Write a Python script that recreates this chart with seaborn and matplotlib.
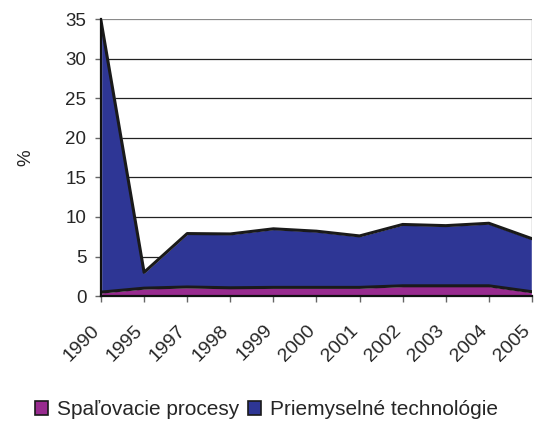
import matplotlib
matplotlib.use("Agg")
import matplotlib.pyplot as plt
import matplotlib.transforms as mtransforms
import seaborn as sns
import pandas as pd
from matplotlib.patches import Patch

years = ["1990", "1995", "1997", "1998", "1999", "2000", "2001", "2002", "2003", "2004", "2005"]
spalovacie = [0.5, 1.0, 1.15, 1.05, 1.1, 1.1, 1.1, 1.3, 1.3, 1.3, 0.55]
priemyselne = [34.3, 2.0, 6.75, 6.8, 7.4, 7.1, 6.5, 7.75, 7.6, 7.9, 6.7]
series_names = ["Spaľovacie procesy", "Priemyselné technológie"]
y_ticks = [0, 5, 10, 15, 20, 25, 30, 35]

sns.set_style("white")
plt.rcParams["font.family"] = ["Liberation Sans", "DejaVu Sans"]

df = pd.DataFrame({"rok": years, series_names[0]: spalovacie, series_names[1]: priemyselne})
df["pos"] = range(len(df))
df["spolu"] = df[series_names[0]] + df[series_names[1]]

fig = plt.figure(figsize=(5.36, 4.23), dpi=100)
ax = fig.add_axes([0.1884, 0.300, 0.8041, 0.655])

colors = ["#982B8F", "#2E3695"]
ax.stackplot(df["pos"], df[series_names[0]], df[series_names[1]],
             colors=colors, zorder=2)

# dark outlines along the top of each layer
for col in [series_names[0], "spolu"]:
    sns.lineplot(data=df, x="pos", y=col, ax=ax, color="#1a1a1a", lw=2.2,
                 zorder=3, legend=False)

ax.set_xlim(0, len(years) - 1)
ax.set_ylim(0, 35)
ax.set_yticks(y_ticks)
ax.set_yticklabels([str(t) for t in y_ticks], fontsize=13.5)
ax.set_xticks(df["pos"])
ax.set_xticklabels(years, rotation=45, ha="right", va="top",
                   rotation_mode="anchor", fontsize=14)
ax.set_xlabel("")
ax.set_ylabel("%", fontsize=13.5, labelpad=22)

for t in y_ticks[1:]:
    ax.axhline(t, color="#222222" if t < 35 else "#8a8a8a", lw=0.9, zorder=1)

for side in ["top", "right"]:
    ax.spines[side].set_visible(False)
for side in ["left", "bottom"]:
    ax.spines[side].set_color("#111111")
    ax.spines[side].set_linewidth(1.6)
    ax.spines[side].set_zorder(4)
ax.axvline(len(years) - 1, color="#999999", lw=1.0, zorder=1)

ax.tick_params(axis="x", bottom=True, length=4.5, width=1, color="#666666", pad=14)
ax.tick_params(axis="y", left=True, length=4.5, width=1, color="#666666", pad=6)

# slanted year labels sit a little left of their ticks
shift = mtransforms.ScaledTranslation(-10 / 100, 0, fig.dpi_scale_trans)
for lbl in ax.get_xticklabels():
    lbl.set_transform(lbl.get_transform() + shift)

handles = [Patch(facecolor=c, edgecolor="#1a1a1a", linewidth=1.2) for c in colors]
fig.legend(handles, series_names, loc="center", bbox_to_anchor=(0.497, 0.031),
           ncol=2, frameon=False, fontsize=15, handlelength=0.62, handleheight=0.62,
           handletextpad=0.45, columnspacing=0.4)

fig.savefig("out.png", dpi=100)
